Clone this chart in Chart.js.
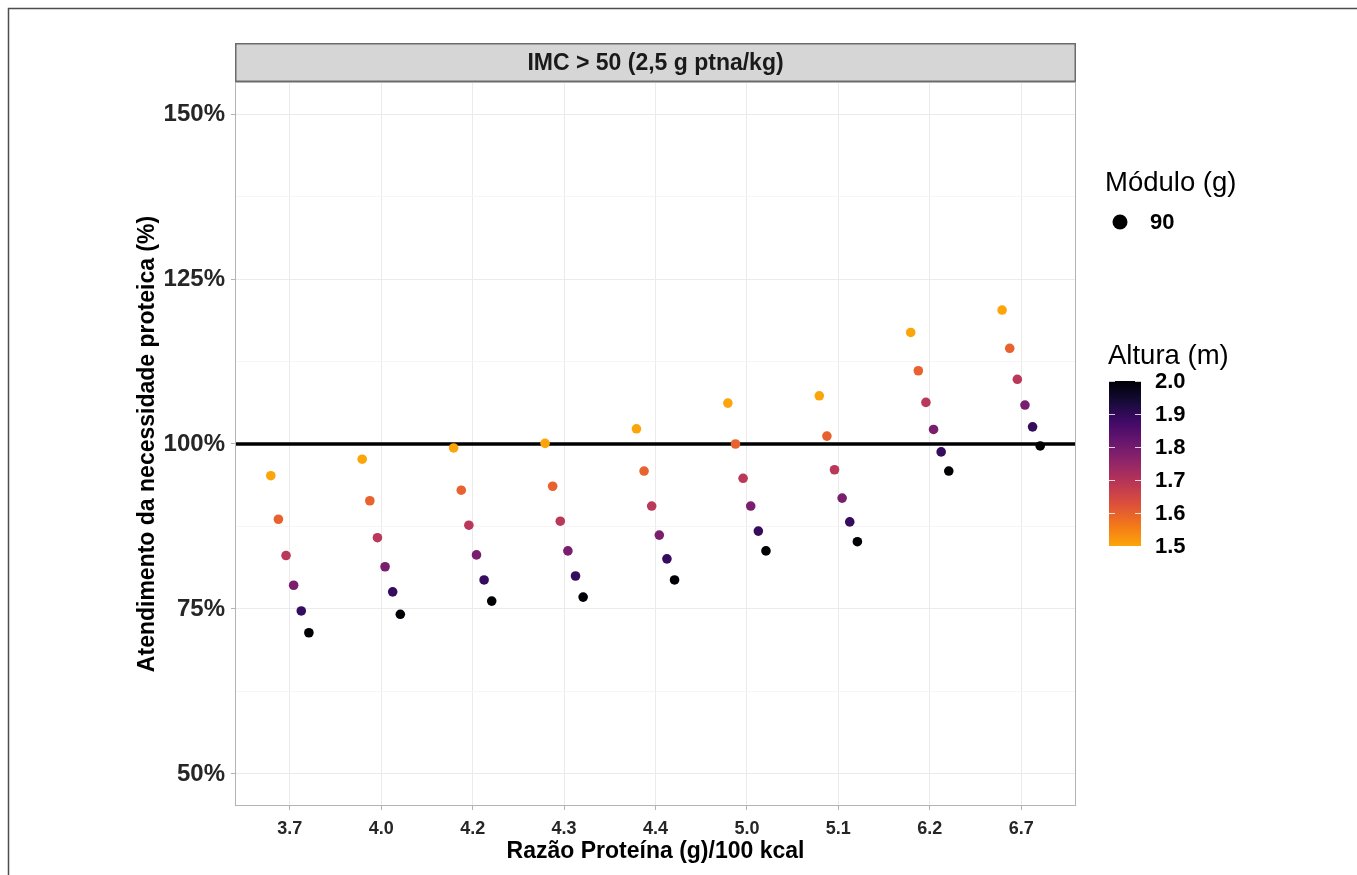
<!DOCTYPE html>
<html>
<head>
<meta charset="utf-8">
<script src="https://cdn.jsdelivr.net/npm/chart.js@4.4.1/dist/chart.umd.min.js"></script>
<style>
  body { margin: 0; background: #fff; }
  #wrap { position: relative; width: 1357px; height: 875px; }
</style>
</head>
<body>
<div id="wrap"><canvas id="myChart" width="1357" height="875"></canvas></div>
<script>
// data
var categories = ['3.7', '4.0', '4.2', '4.3', '4.4', '5.0', '5.1', '6.2', '6.7'];
var heights = [1.5, 1.6, 1.7, 1.8, 1.9, 2.0];
var h150 = [95.2, 97.7, 99.4, 100.1, 102.3, 106.2, 107.3, 116.9, 120.3];
var h160 = [88.6, 91.4, 93.0, 93.6, 95.9, 100.0, 101.2, 111.1, 114.5];
var h170 = [83.1, 85.8, 87.7, 88.3, 90.6, 94.8, 96.1, 106.3, 109.8];
var h180 = [78.6, 81.4, 83.2, 83.8, 86.2, 90.6, 91.8, 102.2, 105.9];
var h190 = [74.7, 77.6, 79.4, 80.0, 82.6, 86.8, 88.2, 98.8, 102.6];
var h200 = [71.4, 74.2, 76.2, 76.8, 79.4, 83.8, 85.2, 95.9, 99.7];
var yTicks = [50, 62.5, 75, 87.5, 100, 112.5, 125, 137.5, 150];
var colorTicks = [1.5, 1.6, 1.7, 1.8, 1.9, 2.0];
var moduloLabel = '90';
var refValue = 100;

var series = [h150, h160, h170, h180, h190, h200];
var colors = ['#FCA50A', '#E8622F', '#BA3859', '#7A1E6E', '#360C5E', '#000004'];
// inferno 0..0.8 for the colour bar (top = 2.0 = 0, bottom = 1.5 = 0.8)
var barStops = ['#000004', '#160B39', '#420A68', '#6A176E', '#932667', '#BC3754', '#DD513A', '#F37819', '#FCA50A'];

var dodge = 0.5;
var datasets = series.map(function (vals, j) {
  var off = (j - (heights.length - 1) / 2) * dodge / heights.length;
  return {
    label: String(heights[j]),
    data: vals.map(function (v, i) { return { x: i + 1 + off, y: v }; }),
    backgroundColor: colors[j],
    borderWidth: 0,
    pointRadius: 4.8,
    pointHoverRadius: 4.8
  };
});

var FONT = 'Liberation Sans';

var decor = {
  id: 'decor',
  beforeDatasetsDraw: function (chart) {
    var c = chart.ctx, a = chart.chartArea, y = chart.scales.y;
    var py = y.getPixelForValue(refValue);
    c.save();
    c.strokeStyle = '#000';
    c.lineWidth = 3.5;
    c.beginPath(); c.moveTo(a.left, py); c.lineTo(a.right, py); c.stroke();
    c.restore();
  },
  afterDraw: function (chart) {
    var c = chart.ctx, a = chart.chartArea;
    c.save();
    // panel border
    c.strokeStyle = '#B3B3B3';
    c.lineWidth = 1;
    c.strokeRect(a.left + 0.5, a.top + 0.5, a.right - a.left - 1, a.bottom - a.top - 1);
    // strip
    c.fillStyle = '#D6D6D6';
    c.fillRect(a.left, 43, a.right - a.left, a.top - 43);
    c.strokeStyle = '#6B6B6B';
    c.lineWidth = 1.5;
    c.strokeRect(a.left + 0.75, 43.75, a.right - a.left - 1.5, a.top - 43 - 1.5);
    c.fillStyle = '#1A1A1A';
    c.font = 'bold 23px "' + FONT + '"';
    c.textAlign = 'center'; c.textBaseline = 'middle';
    c.fillText('IMC > 50 (2,5 g ptna/kg)', (a.left + a.right) / 2, 64);
    // axis titles
    c.fillStyle = '#000';
    c.font = 'bold 23px "' + FONT + '"';
    c.fillText('Razão Proteína (g)/100 kcal', (a.left + a.right) / 2, 852);
    c.save();
    c.translate(148, (a.top + a.bottom) / 2);
    c.rotate(-Math.PI / 2);
    c.fillText('Atendimento da necessidade proteica (%)', 0, 0);
    c.restore();
    // legend: Módulo
    c.textAlign = 'left';
    c.font = '27.5px "' + FONT + '"';
    c.fillText('Módulo (g)', 1105, 183);
    c.beginPath(); c.arc(1120, 222, 7.5, 0, Math.PI * 2); c.fill();
    c.font = 'bold 22px "' + FONT + '"';
    c.fillText(moduloLabel, 1150, 223);
    // legend: Altura colour bar
    c.font = '27.5px "' + FONT + '"';
    c.fillText('Altura (m)', 1108, 356);
    var bx = 1109, bw = 32, btop = 381, bbot = 546;
    var g = c.createLinearGradient(0, btop, 0, bbot);
    barStops.forEach(function (col, k) { g.addColorStop(k / (barStops.length - 1), col); });
    c.fillStyle = g;
    c.fillRect(bx, btop, bw, bbot - btop);
    c.strokeStyle = 'rgba(255,255,255,0.8)';
    c.lineWidth = 1;
    c.font = 'bold 22px "' + FONT + '"';
    colorTicks.forEach(function (v) {
      var ty = bbot - (v - colorTicks[0]) / (colorTicks[colorTicks.length - 1] - colorTicks[0]) * (bbot - btop);
      var ly = Math.round(ty) + 0.5;
      c.beginPath(); c.moveTo(bx, ly); c.lineTo(bx + 6, ly); c.moveTo(bx + bw - 6, ly); c.lineTo(bx + bw, ly); c.stroke();
      c.fillStyle = '#000';
      c.fillText(v.toFixed(1), 1155, ty + 1);
    });
    // outer frame (top and left edges)
    c.strokeStyle = '#4D4D4D';
    c.lineWidth = 1.5;
    c.beginPath(); c.moveTo(8.5, 875); c.lineTo(8.5, 8.5); c.lineTo(1357, 8.5); c.stroke();
    c.restore();
  }
};

var ctx = document.getElementById('myChart');
new Chart(ctx, {
  type: 'scatter',
  data: { datasets: datasets },
  plugins: [decor],
  options: {
    responsive: false,
    animation: false,
    events: [],
    layout: { padding: { left: 0, top: 82, right: 281, bottom: 0 } },
    plugins: { legend: { display: false }, tooltip: { enabled: false } },
    scales: {
      x: {
        type: 'linear',
        min: 0.4,
        max: categories.length + 0.6,
        afterBuildTicks: function (scale) {
          scale.ticks = categories.map(function (c, i) { return { value: i + 1 }; });
        },
        afterFit: function (scale) { scale.height = 69; },
        border: { display: false },
        grid: { color: '#EBEBEB', lineWidth: 1, tickColor: '#B3B3B3', tickLength: 4 },
        ticks: {
          autoSkip: false, maxRotation: 0, padding: 8,
          color: '#262626',
          font: { family: FONT, size: 18, weight: 'bold' },
          callback: function (v) { return categories[Math.round(v) - 1]; }
        }
      },
      y: {
        min: 45.15,
        max: 154.85,
        afterBuildTicks: function (scale) {
          scale.ticks = yTicks.map(function (v) { return { value: v }; });
        },
        afterFit: function (scale) { scale.width = 235; },
        border: { display: false },
        grid: {
          color: function (c) { return c.tick && c.tick.value % 25 === 0 ? '#EBEBEB' : '#F5F5F5'; },
          tickColor: function (c) { return c.tick && c.tick.value % 25 === 0 ? '#B3B3B3' : 'rgba(0,0,0,0)'; },
          lineWidth: 1, tickLength: 4
        },
        ticks: {
          padding: 6,
          color: '#262626',
          font: { family: FONT, size: 24, weight: 'bold' },
          callback: function (v) { return v % 25 === 0 ? v + '%' : ''; }
        }
      }
    }
  }
});
</script>
</body>
</html>
